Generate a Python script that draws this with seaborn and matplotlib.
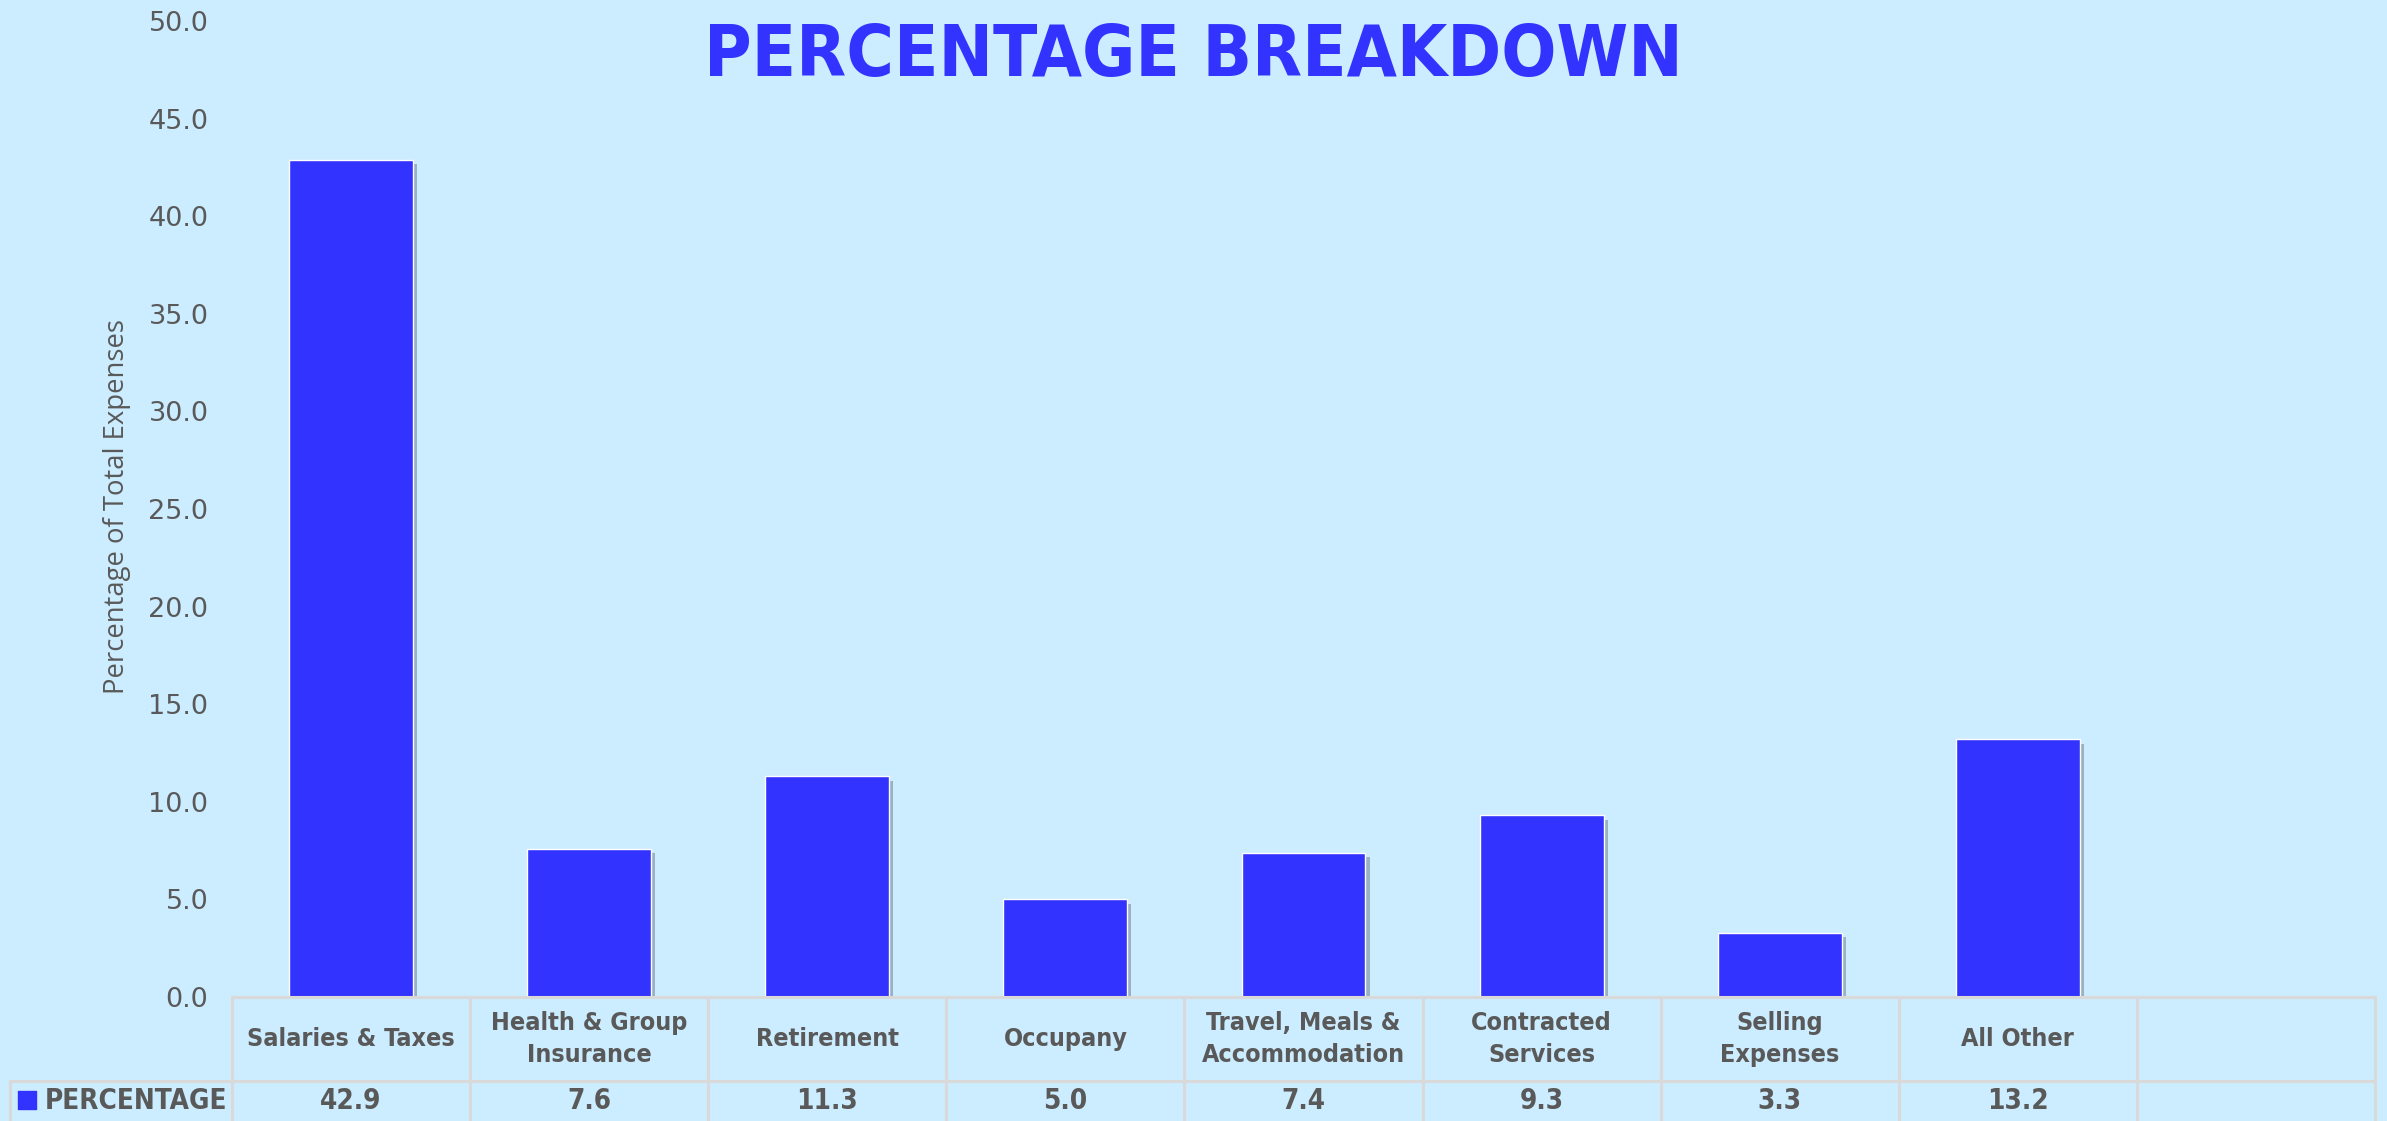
import numpy as np
import pandas as pd
import matplotlib
matplotlib.use("Agg")
import matplotlib.pyplot as plt
import matplotlib.patheffects as pe
from matplotlib import font_manager
import seaborn as sns

# data
categories = ["Salaries & Taxes", "Health & Group\nInsurance", "Retirement", "Occupany",
              "Travel, Meals &\nAccommodation", "Contracted\nServices", "Selling\nExpenses",
              "All Other", ""]
values = [42.9, 7.6, 11.3, 5.0, 7.4, 9.3, 3.3, 13.2]
series_name = "PERCENTAGE"
yticks = [0, 5, 10, 15, 20, 25, 30, 35, 40, 45, 50]

BG = "#CCECFF"
BLUE = "#3333FF"
GRAY = "#595959"
LINE = "#D9D9D9"

sns.set_style("white")
plt.rcParams["font.family"] = ["DejaVu Sans"]

names = {f.name for f in font_manager.fontManager.ttflist}
if "Liberation Sans Narrow" in names:
    narrow = dict(family="Liberation Sans Narrow")
else:
    narrow = dict(family="DejaVu Sans", stretch="condensed")
label_font = "Open Sans" if "Open Sans" in names else "DejaVu Sans"

W, H = 2387, 1121
fig = plt.figure(figsize=(W / 100, H / 100), dpi=100, facecolor=BG)

# plot area in pixels
px_left, px_right = 232, 2375
px_zero, px_top = 997, 21
ax = fig.add_axes([px_left / W, (H - px_zero) / H, (px_right - px_left) / W, (px_zero - px_top) / H])
ax.set_facecolor(BG)

df = pd.DataFrame({"category": categories[:len(values)], "value": values})
sns.barplot(data=df, x="category", y="value", order=categories, color=BLUE,
            saturation=1, width=0.52, ax=ax)
for bar in ax.patches:
    bar.set_path_effects([pe.SimplePatchShadow(offset=(3, -3), shadow_rgbFace="#7a8a99", alpha=0.6),
                          pe.Normal()])

ax.set_xlim(-0.5, len(categories) - 0.5)
ax.set_ylim(0, 50)
ax.set_yticks(yticks)
ax.set_yticklabels([f"{t:.1f}" for t in yticks], color=GRAY, fontsize=19.5)
ax.tick_params(axis="y", length=0, pad=17)
ax.tick_params(axis="x", length=0, labelbottom=False)
ax.set_xlabel("")
ax.set_ylabel("Percentage of Total Expenses", color=GRAY, fontsize=19.8, family=label_font)
ax.yaxis.label.set_verticalalignment("center")
ax.yaxis.set_label_coords((117 - px_left) / (px_right - px_left), (px_zero - 507) / (px_zero - px_top))
sns.despine(ax=ax, left=True, bottom=True)

fig.text(0.5, 1 - 76 / H, "PERCENTAGE BREAKDOWN", ha="center", va="baseline",
         color=BLUE, fontsize=52, fontweight="bold", **narrow)

# data table under the axis
n = len(categories)
unit = (px_right - px_left) / n
tab_left = 10
tab = fig.add_axes([tab_left / W, 0, (px_right - tab_left) / W, (H - px_zero) / H])
tab.set_facecolor("none")
x_lo = -0.5 - (px_left - tab_left) / unit
tab.set_xlim(x_lo, n - 0.5)
tab.set_ylim(H - px_zero, 0)
tab.axis("off")

head_bottom = 84
lw = 2.2
tab.plot([-0.5, n - 0.5], [0, 0], color=LINE, lw=lw, clip_on=False)
tab.plot([x_lo, n - 0.5], [head_bottom, head_bottom], color=LINE, lw=lw, clip_on=False)
for i in range(n + 1):
    tab.plot([i - 0.5, i - 0.5], [0, 130], color=LINE, lw=lw, clip_on=False)
tab.plot([x_lo, x_lo], [head_bottom, 130], color=LINE, lw=lw, clip_on=False)

for i, cat in enumerate(categories):
    tab.text(i, 42, cat, ha="center", va="center", color=GRAY, fontsize=18,
             fontweight="bold", linespacing=1.4, **narrow)
for i, v in enumerate(values):
    tab.text(i, 104, f"{v:.1f}", ha="center", va="center", color=GRAY, fontsize=20,
             fontweight="bold", **narrow)

# legend key + series name
tab.scatter([x_lo + 0.07], [103], marker="s", s=160, color=BLUE, clip_on=False)
tab.text(x_lo + 0.145, 104, series_name, ha="left", va="center", color=GRAY, fontsize=20,
         fontweight="bold", **narrow)

fig.savefig("out.png", dpi=100, facecolor=BG)
